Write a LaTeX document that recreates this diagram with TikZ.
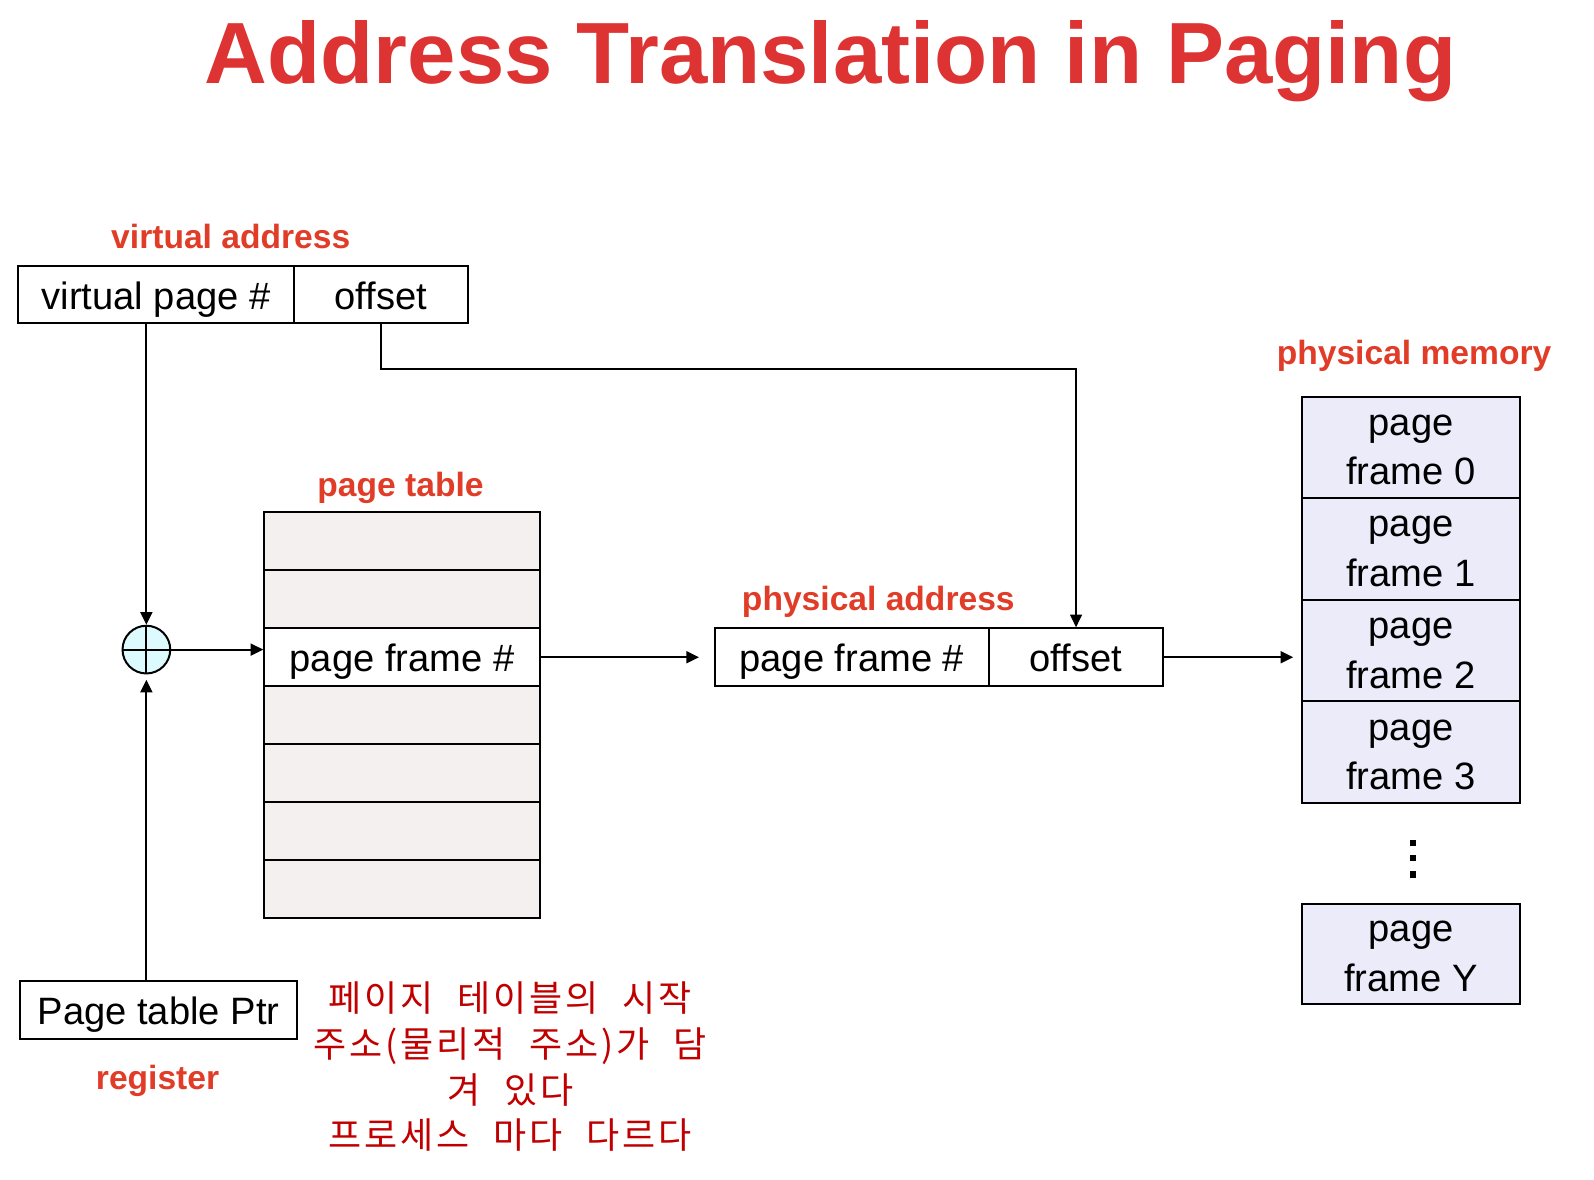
\documentclass[tikz,border=0pt]{standalone}
\usepackage{fontspec}
\setmainfont{Liberation Sans}
\newfontfamily\krfont[LetterSpace=8,WordSpace=2.2]{Noto Sans CJK KR}
\usetikzlibrary{arrows.meta,calc}
\definecolor{titlered}{RGB}{221,51,51}
\definecolor{labelred}{RGB}{224,60,40}
\definecolor{korred}{RGB}{192,0,0}
\definecolor{ptfill}{RGB}{244,240,240}
\definecolor{memfill}{RGB}{235,235,250}
\definecolor{circfill}{RGB}{221,250,255}
\begin{document}
\begin{tikzpicture}[x=0.7624pt,y=-0.7624pt,
  box/.style={draw=black,line width=1.5pt,rectangle,inner sep=0pt,
    font=\fontsize{28.6}{34}\selectfont,text height=21.3pt,text depth=0pt},
  ptrow/.style={box,minimum width=206.6pt,minimum height=43.5pt},
  memrow/.style={box,fill=memfill,minimum width=163.2pt,minimum height=76.2pt},
  memtxt/.style={anchor=base,inner sep=0pt,font=\fontsize{28.6}{34}\selectfont},
  lab/.style={anchor=base,inner sep=0pt,text=labelred,font=\fontsize{25.2}{30}\selectfont\bfseries},
  kor/.style={anchor=base,inner sep=0pt,text=korred,font=\krfont\fontsize{27}{32}\selectfont},
  arr/.style={line width=1.4pt,-{Triangle[length=9.5pt,width=9pt]}},
  conn/.style={line width=1.4pt}
]
\useasboundingbox (0,0) rectangle (1568,1160);

% title
\node[anchor=base,inner sep=0pt,text=titlered,font=\fontsize{65.2}{70}\selectfont\bfseries] (title) at (817,82) {Address Translation in Paging};

% virtual address
\node[lab] (lva) at (227,244) {virtual address};
\node[box,minimum width=206.6pt,minimum height=42.7pt] (vpn) at (153.5,290) {virtual page \#};
\node[box,minimum width=130.4pt,minimum height=42.7pt] (voff) at (374.5,290) {offset};

% adder circle
\node[draw=black,line width=1.5pt,circle,fill=circfill,minimum size=35.8pt,inner sep=0pt] (circ) at (144,639) {};
\draw[line width=1.5pt] (circ.north) -- (circ.south) (circ.west) -- (circ.east);

% page table
\node[lab] (lpt) at (394,488) {page table};
\foreach \i in {1,2,4,5,6,7}
  \node[ptrow,fill=ptfill] (pt\i) at (395.5,{475.5+57*\i}) {};
\node[ptrow,fill=white] (pt3) at (395.5,646.5) {page frame \#};

% physical address
\node[lab] (lpa) at (864,601) {physical address};
\node[box,minimum width=205.8pt,minimum height=43.5pt] (pfn) at (838,646.5) {page frame \#};
\node[box,minimum width=130.4pt,minimum height=43.5pt] (poff) at (1058.5,646.5) {offset};

% physical memory
\node[lab] (lpm) at (1391,359) {physical memory};
\foreach \i in {0,1,2,3} {
  \node[memrow] (pf\i) at (1388,{440+100*\i}) {};
  \node[memtxt] at ($(pf\i.center)+(0,-12)$) {page};
  \node[memtxt] at ($(pf\i.center)+(0,37)$) {frame \i};
}
\node[memrow,minimum height=75.5pt] (pfY) at (1388,938.5) {};
\node[memtxt] at ($(pfY.center)+(0,-12)$) {page};
\node[memtxt] at ($(pfY.center)+(0,37)$) {frame Y};
\foreach \y in {829,844,860}
  \fill (1386.8,\y-3.2) rectangle (1393.2,\y+3.2);

% page table pointer register
\node[box,minimum width=207.4pt,minimum height=43.5pt] (ptr) at (156,993.5) {Page table Ptr};
\node[lab] (lreg) at (155,1072) {register};

% Korean note
\node[kor] (k1) at (502,995) {페이지 테이블의 시작};
\node[kor] (k2) at (502,1040) {주소(물리적 주소)가 담};
\node[kor] (k3) at (502,1085) {겨 있다};
\node[kor] (k4) at (502,1130) {프로세스 마다 다르다};

% connectors
\coordinate (bend) at (1058.5,363);
\draw[arr] (circ.north |- vpn.south) -- (circ.north);
\draw[arr] (circ.east) -- (circ.east -| pt3.west);
\draw[arr,shorten >=4pt] (circ.south |- ptr.north) -- (circ.south);
\draw[arr,shorten >=11pt] (pt3.east) -- (pfn.west);
\draw[arr] (voff.south) |- (bend) -- (poff.north);
\draw[arr,shorten >=6pt] (poff.east) -- (poff.east -| pf2.west);
\end{tikzpicture}
\end{document}
